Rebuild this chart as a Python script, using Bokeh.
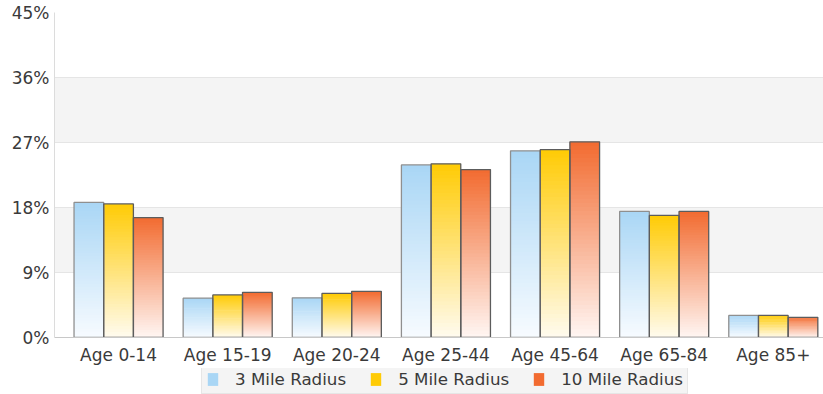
import numpy as np
from bokeh.plotting import figure
from bokeh.layouts import column
from bokeh.models import (ColumnDataSource, FixedTicker, PrintfTickFormatter,
                          BoxAnnotation, Legend, LegendItem, Range1d)
from bokeh.embed import file_html
from bokeh.resources import INLINE

# ---------------- data ----------------
categories = ["Age 0-14", "Age 15-19", "Age 20-24", "Age 25-44",
              "Age 45-64", "Age 65-84", "Age 85+"]
series_names = ["3 Mile Radius", "5 Mile Radius", "10 Mile Radius"]
mile3 = [18.7, 5.45, 5.5, 23.9, 25.85, 17.45, 3.05]
mile5 = [18.5, 5.9, 6.1, 24.05, 26.0, 16.9, 3.05]
mile10 = [16.6, 6.25, 6.4, 23.25, 27.1, 17.45, 2.8]
y_ticks = [0, 9, 18, 27, 36, 45]

series_values = [mile3, mile5, mile10]

# ---------------- styles ----------------
top_colors = ["#a9d6f5", "#ffcb05", "#f26b30"]
bottom_colors = ["#f7fbff", "#fffbef", "#fff6f3"]
outline_colors = ["#8f8f8f", "#5c5c5c", "#5c5c5c"]
bar_w = 0.272
offsets = [-bar_w, 0.0, bar_w]
N_SLICES = 48
FONT = "DejaVu Sans"


def hex2rgb(h):
    h = h.lstrip("#")
    return np.array([int(h[i:i + 2], 16) for i in (0, 2, 4)], dtype=float)


def rgb2hex(c):
    return "#%02x%02x%02x" % tuple(int(round(v)) for v in c)


p = figure(width=823, height=368, output_backend="svg", toolbar_location=None,
           x_range=Range1d(-0.587, 6.46), y_range=Range1d(0, 45),
           min_border_left=54, min_border_right=0, min_border_top=12,
           min_border_bottom=31)
p.outline_line_color = None
p.background_fill_color = "white"
p.border_fill_color = "white"

# alternating bands
for lo, hi in [(9, 18), (27, 36)]:
    p.add_layout(BoxAnnotation(bottom=lo, top=hi, fill_color="#f4f4f4",
                               fill_alpha=1.0, line_color=None, level="underlay"))

# gradient bars made of thin overlapping slices
sl_left, sl_right, sl_bot, sl_top, sl_col = [], [], [], [], []
ol_left, ol_right, ol_top, ol_col = [], [], [], []
for s, vals in enumerate(series_values):
    ct = hex2rgb(top_colors[s])
    cb = hex2rgb(bottom_colors[s])
    for i, v in enumerate(vals):
        l = i + offsets[s] - bar_w / 2
        r = i + offsets[s] + bar_w / 2
        step = v / N_SLICES
        for k in range(N_SLICES):
            t = (k + 0.5) / N_SLICES
            sl_left.append(l)
            sl_right.append(r)
            sl_bot.append(step * k)
            sl_top.append(min(v, step * (k + 1) + step * 0.8))
            sl_col.append(rgb2hex(cb + (ct - cb) * t))
        ol_left.append(l)
        ol_right.append(r)
        ol_top.append(v)
        ol_col.append(outline_colors[s])

slice_src = ColumnDataSource(dict(left=sl_left, right=sl_right, bottom=sl_bot,
                                  top=sl_top, color=sl_col))
p.quad(left="left", right="right", bottom="bottom", top="top", source=slice_src,
       fill_color="color", line_color=None)

ol_src = ColumnDataSource(dict(left=ol_left, right=ol_right,
                               bottom=[0] * len(ol_top), top=ol_top, color=ol_col))
p.quad(left="left", right="right", bottom="bottom", top="top", source=ol_src,
       fill_color=None, line_color="color", line_width=1.3)

# axes
p.xaxis.ticker = FixedTicker(ticks=list(range(len(categories))))
p.xaxis.major_label_overrides = {i: c for i, c in enumerate(categories)}
p.xaxis.major_label_text_font = FONT
p.xaxis.major_label_text_font_size = "17px"
p.xaxis.major_label_text_color = "#3a3a3a"
p.xaxis.major_tick_line_color = None
p.xaxis.minor_tick_line_color = None
p.xaxis.major_tick_out = 0
p.xaxis.major_label_standoff = 7
p.xaxis.axis_line_color = "#c8c8c8"

p.yaxis.ticker = FixedTicker(ticks=y_ticks)
p.yaxis.formatter = PrintfTickFormatter(format="%d%%")
p.yaxis.major_label_text_font = FONT
p.yaxis.major_label_text_font_size = "17px"
p.yaxis.major_label_text_color = "#3a3a3a"
p.yaxis.major_tick_line_color = None
p.yaxis.minor_tick_line_color = None
p.yaxis.major_tick_out = 0
p.yaxis.major_label_standoff = 5
p.yaxis.axis_line_color = "#dcdcdc"

p.xgrid.grid_line_color = None
p.ygrid.grid_line_color = "#d6d6d6"
p.ygrid.ticker = FixedTicker(ticks=y_ticks)

# ---------------- legend strip ----------------
pl = figure(width=823, height=26, output_backend="svg", toolbar_location=None,
            x_range=Range1d(0, 1), y_range=Range1d(0, 1),
            x_axis_location=None, y_axis_location=None,
            min_border_left=0, min_border_right=0, min_border_top=0,
            min_border_bottom=0)
pl.outline_line_color = None
pl.xgrid.grid_line_color = None
pl.ygrid.grid_line_color = None
items = []
for s, name in enumerate(series_names):
    r = pl.quad(left=[5], right=[6], bottom=[5], top=[6],
                fill_color=top_colors[s], line_color=None)
    items.append(LegendItem(label=name, renderers=[r]))
legend = Legend(items=items, orientation="horizontal", location=(147, 0),
                background_fill_color="#f4f4f4", background_fill_alpha=1.0,
                border_line_color="#d8d8d8", label_text_font=FONT,
                label_text_font_size="16.7px", label_text_color="#3a3a3a",
                glyph_width=13, glyph_height=16, label_standoff=16, spacing=23,
                padding=4, margin=0, label_height=17)
pl.add_layout(legend, "center")

layout = column(p, pl, spacing=0)
open("out.html", "w").write(file_html(layout, INLINE))
